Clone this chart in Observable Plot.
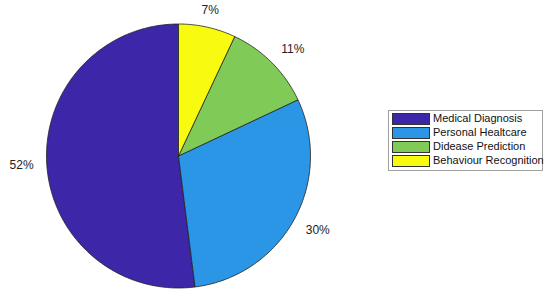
<!DOCTYPE html>
<html><head><meta charset="utf-8">
<script src="https://cdn.jsdelivr.net/npm/d3@7"></script>
<script src="https://cdn.jsdelivr.net/npm/@observablehq/plot@0.6"></script>
<style>
html,body{margin:0;padding:0;background:#fff;}
#wrap{position:relative;width:550px;height:291px;font-family:"Liberation Sans",Arial,sans-serif;}
#legend{position:absolute;left:388px;top:110px;width:153px;height:59px;border:1px solid #a0a0a0;background:#fff;box-sizing:content-box;}
.row{position:absolute;left:3px;height:11px;display:flex;align-items:center;}
.sw{width:36px;height:10px;border:1px solid #333;margin-right:3px;flex:none;}
.lb{font-size:11px;color:#111;white-space:nowrap;line-height:11px;}
</style></head>
<body><div id="wrap"></div>
<script>
const categories = ["Medical Diagnosis","Personal Healtcare","Didease Prediction","Behaviour Recognition"];
const values = [52, 30, 11, 7];
const labels = ["52%","30%","11%","7%"];
const colors = ["#3d26a8","#2b95e6","#80cb58","#f8fa10"];

const cx = 178, cy = 155.5, R = 132;
const pie = d3.pie().sort(null).startAngle(0).endAngle(-2*Math.PI)(values);

const polys = [];
pie.forEach((p, i) => {
  const a0 = p.startAngle, a1 = p.endAngle;
  const n = Math.max(2, Math.ceil(Math.abs(a1 - a0) / (Math.PI/180)));
  polys.push({cat: categories[i], x: 0, y: 0});
  for (let k = 0; k <= n; k++) {
    const a = a0 + (a1 - a0) * k / n;
    polys.push({cat: categories[i], x: Math.sin(a), y: Math.cos(a)});
  }
  polys.push({cat: categories[i], x: 0, y: 0});
});
const lab = pie.map((p, i) => {
  const a = (p.startAngle + p.endAngle) / 2;
  const x = Math.sin(a), y = Math.cos(a);
  return {t: labels[i], x: 1.1*x, y: 1.1*y,
    anchor: x > 0.3 ? "start" : x < -0.3 ? "end" : "middle",
    line: y > 0.3 ? "bottom" : y < -0.3 ? "top" : "middle"};
});

const textMarks = lab.map(d => Plot.text([d], {x: "x", y: "y", text: "t", fontSize: 12, fill: "#222",
  textAnchor: d.anchor, lineAnchor: d.line}));

const chart = Plot.plot({
  width: 550, height: 291,
  margin: 0,
  style: {fontFamily: '"Liberation Sans", Arial, sans-serif', background: "#fff"},
  x: {domain: [-1, 1], range: [cx - R, cx + R], axis: null},
  y: {domain: [-1, 1], range: [cy + R, cy - R], axis: null},
  color: {domain: categories, range: colors},
  marks: [
    Plot.line(polys, {x: "x", y: "y", z: "cat", fill: "cat", stroke: "#222", strokeWidth: 0.8, strokeLinejoin: "round", curve: "linear"}),
    ...textMarks
  ]
});
const wrap = document.getElementById("wrap");
wrap.appendChild(chart);

const leg = document.createElement("div");
leg.id = "legend";
categories.forEach((c, i) => {
  const r = document.createElement("div");
  r.className = "row";
  r.style.top = (2 + i*14) + "px";
  r.innerHTML = `<div class="sw" style="background:${colors[i]}"></div><div class="lb">${c}</div>`;
  leg.appendChild(r);
});
wrap.appendChild(leg);
</script></body></html>
